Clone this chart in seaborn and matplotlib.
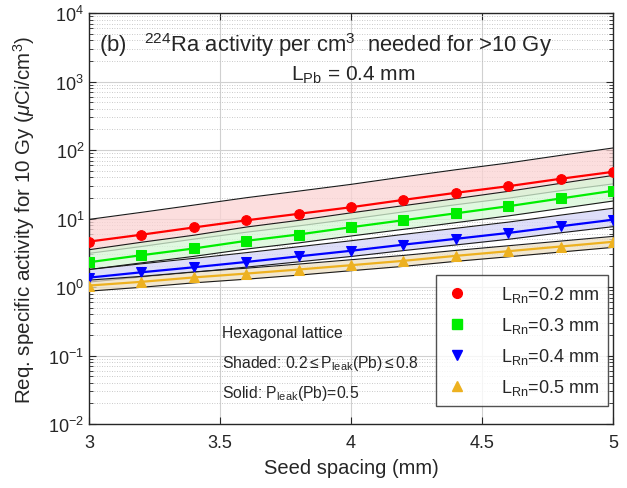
import numpy as np
import pandas as pd
import matplotlib
matplotlib.use("Agg")
import matplotlib.pyplot as plt
from matplotlib.lines import Line2D
from matplotlib.ticker import NullFormatter, FixedLocator, LogFormatterMathtext
import seaborn as sns

# ---------------- data ----------------
spacing = [3.0, 3.2, 3.4, 3.6, 3.8, 4.0, 4.2, 4.4, 4.6, 4.8, 5.0]
labels = ["0.2", "0.3", "0.4", "0.5"]

solid_02 = [4.6, 5.8, 7.4, 9.4, 11.7, 14.6, 18.7, 23.7, 29.6, 38.0, 48.0]
upper_02 = [9.7, 12.3, 15.7, 20.1, 25.1, 31.5, 40.5, 51.5, 64.6, 83.5, 107.0]
lower_02 = [3.1, 3.9, 5.0, 6.3, 7.8, 9.8, 12.5, 15.9, 19.8, 25.5, 32.0]

solid_03 = [2.30, 2.91, 3.65, 4.72, 5.84, 7.46, 9.44, 11.9, 15.1, 19.6, 25.4]
upper_03 = [3.5, 4.5, 5.7, 7.5, 9.4, 12.1, 15.4, 19.5, 24.9, 32.6, 42.5]
lower_03 = [1.80, 2.25, 2.80, 3.58, 4.40, 5.55, 6.95, 8.70, 10.9, 14.0, 18.0]

solid_04 = [1.37, 1.64, 1.94, 2.32, 2.80, 3.38, 4.15, 5.05, 6.15, 7.70, 9.6]
upper_04 = [1.80, 2.18, 2.62, 3.17, 3.87, 4.73, 5.86, 7.20, 8.85, 11.2, 14.1]
lower_04 = [1.18, 1.40, 1.64, 1.95, 2.33, 2.79, 3.40, 4.11, 4.97, 6.18, 7.6]

solid_05 = [1.05, 1.19, 1.38, 1.57, 1.80, 2.08, 2.41, 2.85, 3.33, 3.90, 4.57]
upper_05 = [1.26, 1.43, 1.66, 1.88, 2.16, 2.5, 2.89, 3.42, 4.0, 4.68, 5.48]
lower_05 = [0.87, 0.99, 1.15, 1.30, 1.49, 1.73, 2.0, 2.37, 2.76, 3.24, 3.79]

solids = [solid_02, solid_03, solid_04, solid_05]
uppers = [upper_02, upper_03, upper_04, upper_05]
lowers = [lower_02, lower_03, lower_04, lower_05]

colors = ["#ff0000", "#00ee00", "#0000ff", "#edb120"]
band_colors = ["#fbd3d3", "#d6f7d6", "#d4d4f8", "#eddfc2"]
markers = ["o", "s", "v", "^"]

x_ticks = [3, 3.5, 4, 4.5, 5]
x_ticklabels = ["3", "3.5", "4", "4.5", "5"]
y_decades = [-2, -1, 0, 1, 2, 3, 4]

# ---------------- style ----------------
sns.set_theme(style="white")
plt.rcParams["font.family"] = ["Liberation Sans", "DejaVu Sans"]
plt.rcParams["mathtext.fontset"] = "custom"
plt.rcParams["mathtext.rm"] = "Liberation Sans"
plt.rcParams["mathtext.it"] = "Liberation Sans:italic"
plt.rcParams["mathtext.bf"] = "Liberation Sans:bold"

fig = plt.figure(figsize=(6.27, 4.89), dpi=100)
ax = fig.add_axes([89 / 627, 1 - 425 / 489, (613 - 89) / 627, (425 - 14) / 489])

rows = []
for lab, s, u, l in zip(labels, solids, uppers, lowers):
    for xi, si, ui, li in zip(spacing, s, u, l):
        rows.append({"spacing": xi, "L": lab, "solid": si, "upper": ui, "lower": li})
df = pd.DataFrame(rows)

ax.set_yscale("log")

# shaded bands, each drawn over the previous one's edges
z = 1.0
for lab, bc in zip(labels, band_colors):
    d = df[df["L"] == lab]
    ax.fill_between(d["spacing"], d["lower"], d["upper"], color=bc, alpha=0.75, lw=0, zorder=z)
    sns.lineplot(data=d, x="spacing", y="upper", color="#1a1a1a", lw=0.8, ax=ax, zorder=z + 0.1, legend=False)
    sns.lineplot(data=d, x="spacing", y="lower", color="#1a1a1a", lw=0.8, ax=ax, zorder=z + 0.1, legend=False)
    z += 0.2

# solid lines with markers
for lab, c, m in zip(labels, colors, markers):
    d = df[df["L"] == lab]
    sns.lineplot(data=d, x="spacing", y="solid", color=c, lw=1.6, marker=m, markersize=7,
                 markeredgecolor=c, ax=ax, zorder=4, legend=False)

ax.set_xlim(3, 5)
ax.set_ylim(1e-2, 1e4)
ax.xaxis.set_major_locator(FixedLocator(x_ticks))
ax.set_xticklabels(x_ticklabels)
major_y = [10.0 ** e for e in y_decades]
minor_y = [k * 10.0 ** e for e in y_decades[:-1] for k in range(2, 10)]
ax.yaxis.set_major_locator(FixedLocator(major_y))
ax.yaxis.set_major_formatter(LogFormatterMathtext())
ax.yaxis.set_minor_locator(FixedLocator(minor_y))
ax.yaxis.set_minor_formatter(NullFormatter())

ax.grid(True, which="major", axis="both", color="#d0d0d0", lw=0.8, zorder=0)
ax.grid(True, which="minor", axis="y", color="#b8b8b8", lw=0.6, ls=(0, (1, 2)), zorder=0)
ax.set_axisbelow(True)

ax.tick_params(axis="both", which="both", direction="in", top=True, right=True,
               bottom=True, left=True, labelsize=13, color="#262626")
ax.tick_params(which="major", length=5, width=0.8)
ax.tick_params(which="minor", length=3, width=0.6)
ax.tick_params(axis="x", pad=7)
for sp in ax.spines.values():
    sp.set_color("#262626")
    sp.set_linewidth(1.0)

ax.set_xlabel("Seed spacing (mm)", fontsize=14.5, labelpad=5)
ax.set_ylabel(r"Req. specific activity for 10 Gy ($\mu$Ci/cm$^3$)", fontsize=14.8, labelpad=8)

ax.text(0.02, 0.925, r"(b)   $^{224}$Ra activity per cm$^3$  needed for >10 Gy",
        transform=ax.transAxes, fontsize=15.8, ha="left", va="center")
ax.text(0.505, 0.85, r"L$_{\mathrm{Pb}}$ = 0.4 mm", transform=ax.transAxes,
        fontsize=15, ha="center", va="center")

ax.text(0.253, 0.222, "Hexagonal lattice", transform=ax.transAxes, fontsize=11.3, va="center")
ax.text(0.253, 0.149, r"Shaded: 0.2$\leq$P$_{\mathrm{leak}}$(Pb)$\leq$0.8", transform=ax.transAxes,
        fontsize=11.3, va="center")
ax.text(0.253, 0.076, r"Solid: P$_{\mathrm{leak}}$(Pb)=0.5", transform=ax.transAxes,
        fontsize=11.3, va="center")

handles = [Line2D([], [], ls="none", marker=m, color=c, markersize=7) for c, m in zip(colors, markers)]
leg_labels = [r"L$_{\mathrm{Rn}}$=" + l + " mm" for l in labels]
leg = ax.legend(handles, leg_labels, loc="lower right", bbox_to_anchor=(0.997, 0.035),
                fontsize=13, frameon=True, fancybox=False, edgecolor="#262626",
                handlelength=1.4, handletextpad=1.7, borderpad=0.5, labelspacing=0.6,
                borderaxespad=0.2)
leg.get_frame().set_linewidth(1.0)

fig.savefig("out.png", dpi=100)
